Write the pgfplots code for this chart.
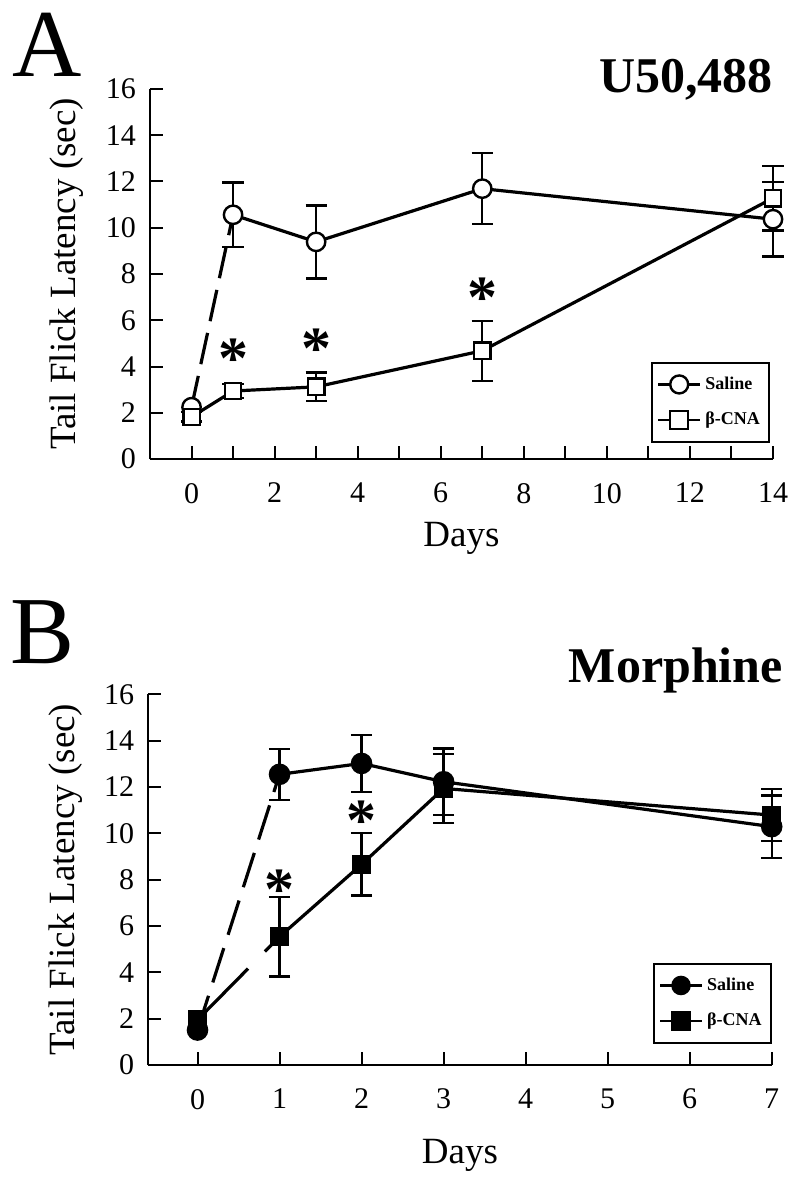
\documentclass[border=0pt]{standalone}
\usepackage{fontspec}
\setmainfont{Liberation Serif}
\usepackage{pgfplots}
\pgfplotsset{compat=1.18}

\pgfplotsset{
 panel/.style={
  scale only axis, anchor=south west,
  axis x line*=bottom, axis y line*=left,
  axis line style={-, line width=1pt},
  tick align=inside, major tick length=6.5pt,
  tick style={line width=1pt, black},
  ymin=0, ymax=16, ytick={0,2,...,16},
  clip=false,
  /pgf/number format/assume math mode=true,
  tick label style={font=\fontsize{15}{15}\selectfont},
  yticklabel style={xshift=-3.5pt},
  xticklabel style={yshift=-8.5pt},
  label style={font=\fontsize{18.5}{18.5}\selectfont},
  ylabel={Tail Flick Latency (sec)},
  xlabel={Days},
  ylabel style={at={(axis description cs:-0.133,0.5)}, anchor=center},
  legend style={font=\fontsize{9}{10}\selectfont\bfseries, draw=black, line width=1pt,
    inner xsep=2.5pt, inner ysep=5pt, row sep=6pt, cells={anchor=west}},
  legend cell align=left,
  legend image code/.code={\draw[mark repeat=2, mark phase=2, ##1, mark size=4.5pt, line width=1.2pt]
     plot coordinates {(0pt,0pt) (10.5pt,0pt) (21pt,0pt)};},
 },
 errs/.style={error bars/.cd, y dir=both, y explicit,
   error bar style={line width=1.2pt, solid},
   error mark options={rotate=90, mark size=5.3pt, line width=1.2pt, solid}},
 openc/.style={black, line width=1.6pt, mark=*, mark size=4.6pt, mark options={fill=white, draw=black, line width=1.2pt, solid}},
 opens/.style={black, line width=1.6pt, mark=square*, mark size=4.1pt, mark options={fill=white, draw=black, line width=1.2pt, solid}},
 fullc/.style={black, line width=1.6pt, mark=*, mark size=5pt, mark options={fill=black, draw=black, line width=0.8pt, solid}},
 fulls/.style={black, line width=1.6pt, mark=square*, mark size=4.3pt, mark options={fill=black, draw=black, line width=0.8pt, solid}},
}
\tikzset{astar/.style={font=\fontsize{30}{30}\selectfont\bfseries, anchor=base, yshift=-14pt, inner sep=0pt}}

\begin{document}
\begin{tikzpicture}
\path[use as bounding box] (0pt,0pt) rectangle (400pt,-591pt);

% Panel letters and titles
\node[font=\fontsize{48}{48}\selectfont, anchor=base west, inner sep=0pt] at (6pt,-38.5pt) {A};
\node[font=\fontsize{48}{48}\selectfont, anchor=base west, inner sep=0pt] at (5pt,-331.6pt) {B};
\node[font=\fontsize{25}{25}\selectfont\bfseries, anchor=base east, inner sep=0pt] at (386.5pt,-46.5pt) {U50,488};
\node[font=\fontsize{25}{25}\selectfont\bfseries, anchor=base east, inner sep=0pt] at (391.6pt,-341pt) {Morphine};

% ---------------- Panel A ----------------
\begin{axis}[panel, at={(75pt,-229.5pt)}, width=311.5pt, height=185pt,
  xmin=-1, xmax=14, xtick={0,...,14},
  xticklabels={0,,2,,4,,6,,8,,10,,12,,14},
  xlabel style={at={(axis description cs:0.5,-0.215)}, anchor=center},
  legend style={at={(0.995,0.263)}, anchor=north east}]
\addplot[black, line width=1.6pt, dash pattern=on 16pt off 6pt, forget plot]
  coordinates {(0,2.24) (1,10.56)};
\addplot[openc, errs] coordinates {
 (1,10.56) +- (0,1.39)
 (3,9.39)  +- (0,1.58)
 (7,11.69) +- (0,1.53)
 (14,10.37) +- (0,1.62)
};
\addlegendentry{Saline}
\addplot[openc, only marks, forget plot] coordinates {(0,2.24)};
\addplot[opens, errs] coordinates {
 (0,1.82) +- (0,0.2)
 (1,2.94) +- (0,0.3)
 (3,3.12) +- (0,0.62)
 (7,4.68) +- (0,1.30)
 (14,11.28) +- (0,1.40)
};
\addlegendentry{β-CNA}
\node[astar] at (axis cs:1,4.71) {*};
\node[astar] at (axis cs:3,5.12) {*};
\node[astar] at (axis cs:7,7.31) {*};
\end{axis}

% ---------------- Panel B ----------------
\begin{axis}[panel, at={(74.15pt,-532.5pt)}, width=311.7pt, height=185.3pt,
  xmin=-0.6, xmax=7, xtick={0,...,7},
  xlabel style={at={(axis description cs:0.5,-0.245)}, anchor=center},
  legend style={at={(1.0,0.276)}, anchor=north east}]
\addplot[black, line width=1.6pt, dash pattern=on 18pt off 7pt, forget plot]
  coordinates {(0,1.51) (1,12.55)};
\addplot[black, line width=1.6pt, dash pattern=on 36pt off 12pt, forget plot]
  coordinates {(0,1.95) (1,5.54)};
\addplot[fullc, errs] coordinates {
 (1,12.55) +- (0,1.10)
 (2,13.02) +- (0,1.24)
 (3,12.23) +- (0,1.44)
 (7,10.29) +- (0,1.35)
};
\addlegendentry{Saline}
\addplot[fullc, only marks, forget plot] coordinates {(0,1.51)};
\addplot[fulls, errs] coordinates {
 (1,5.54) +- (0,1.72)
 (2,8.66) +- (0,1.35)
 (3,11.94) +- (0,1.50)
 (7,10.79) +- (0,1.12)
};
\addlegendentry{β-CNA}
\addplot[fulls, only marks, forget plot] coordinates {(0,1.95)};
\node[astar] at (axis cs:1,7.94) {*};
\node[astar] at (axis cs:2,10.89) {*};
\end{axis}
\end{tikzpicture}
\end{document}
